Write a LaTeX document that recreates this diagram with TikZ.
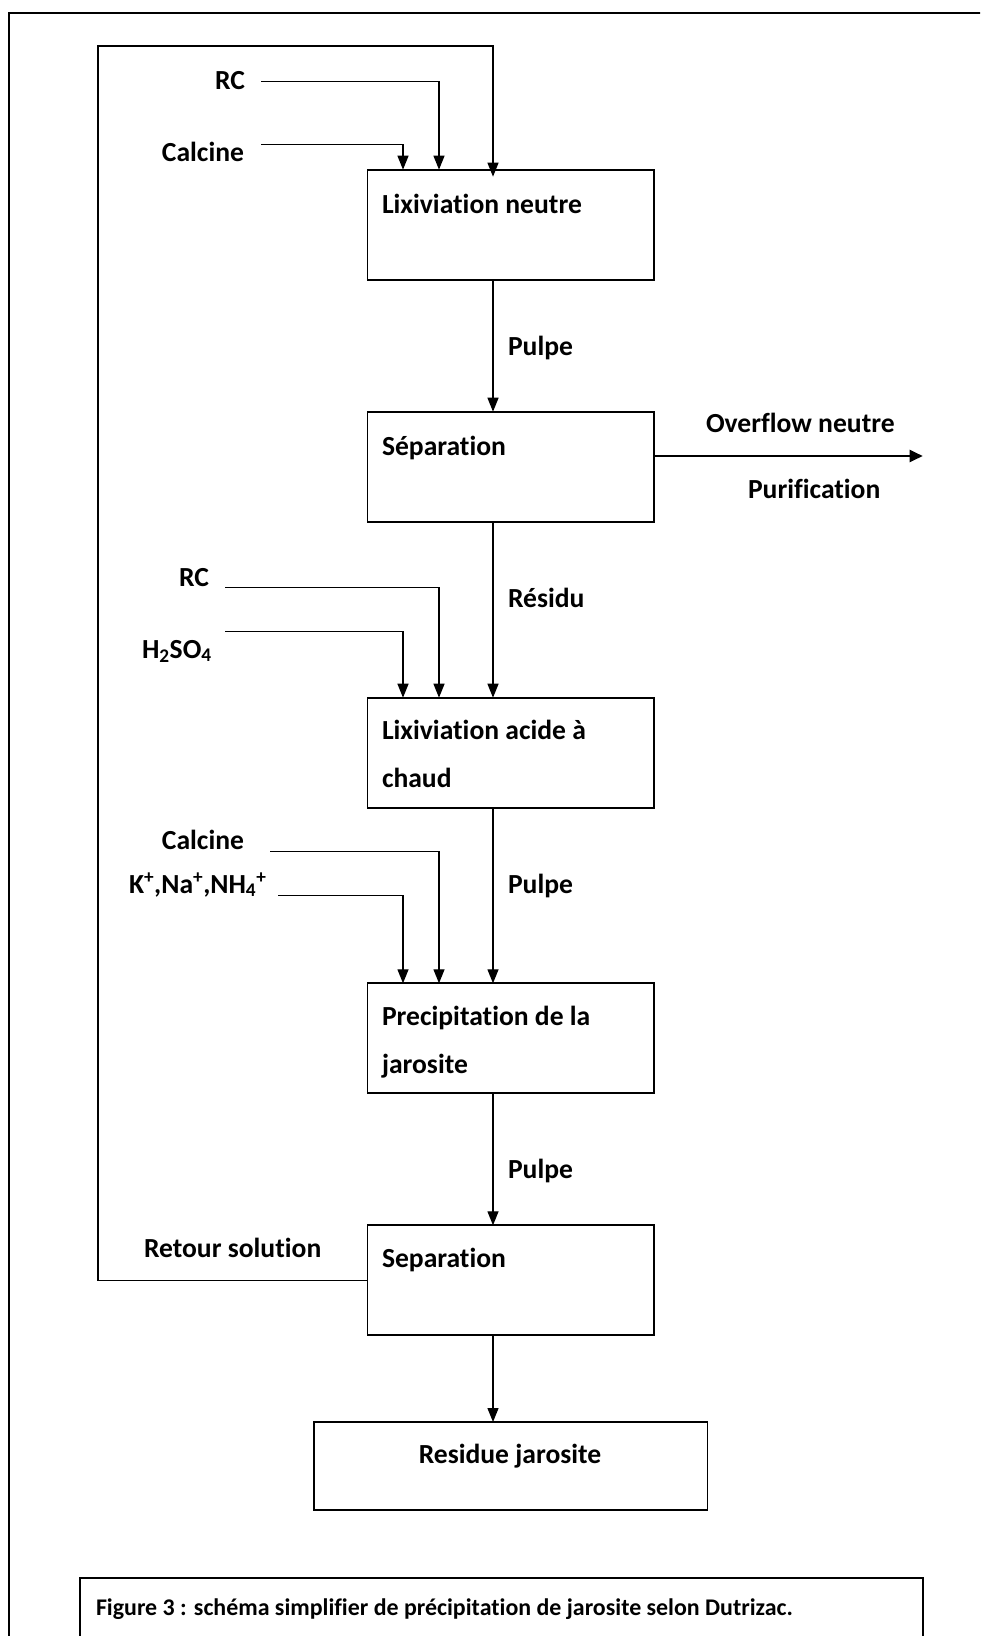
\documentclass[tikz,border=0pt]{standalone}
\usepackage{fontspec}
\setmainfont{Carlito}[Ligatures={NoCommon}]
\usetikzlibrary{arrows.meta}
\begin{document}
\begin{tikzpicture}[x=1pt,y=-1pt,
  every node/.style={inner sep=0pt, outer sep=0pt},
  lbl/.style={font=\fontsize{27.6}{33}\selectfont\bfseries, anchor=base west},
  lblr/.style={lbl, anchor=base east},
  unit/.style={draw, line width=1.8pt, minimum width=286.5pt, minimum height=110pt},
  flow/.style={line width=1.3pt, -{Triangle[length=14pt,width=11pt]}},
  frame/.style={line width=1.8pt}
]
\useasboundingbox (0,0) rectangle (980,1636);
\clip (0,0) rectangle (980,1636);

% page frame, running off the right and bottom edges
\draw[frame] (990,12.7) -- (8.7,12.7) -- (8.7,1650);

% process units
\node[unit] (b1) at (510.75,224.65) {};
\node[unit] (b2) at (510.75,466.7) {};
\node[unit] (b3) at (510.75,752.7) {};
\node[unit] (b4) at (510.75,1038.3) {};
\node[unit] (b5) at (510.75,1280.3) {};
\node[unit, minimum width=393.5pt, minimum height=88pt] (b6) at (510.75,1466) {};

% unit titles
\node[lbl] (t1) at (382,213) {Lixiviation neutre};
\node[lbl] (t2) at (382,455) {Séparation};
\node[lbl] (t3a) at (382,739) {Lixiviation acide à};
\node[lbl] (t3b) at (382,787) {chaud};
\node[lbl] (t4a) at (382,1025) {Precipitation de la};
\node[lbl] (t4b) at (382,1073) {jarosite};
\node[lbl] (t5) at (382,1267) {Separation};
\node[lbl, anchor=base] (t6) at (510,1463) {Residue jarosite};

% x positions of the vertical drops
\coordinate (col) at (493,0);
\coordinate (dA) at (403,0);
\coordinate (dB) at (439,0);

% main stream
\draw[flow] (b1.south -| col) -- (b2.north -| col);
\draw[flow] (b2.south -| col) -- (b3.north -| col);
\draw[flow] (b3.south -| col) -- (b4.north -| col);
\draw[flow] (b4.south -| col) -- (b5.north -| col);
\draw[flow] (b5.south -| col) -- (b6.north -| col);

\node[lbl] (p1) at (508,355) {Pulpe};
\node[lbl] (r1) at (508,607) {Résidu};
\node[lbl] (p2) at (508,893) {Pulpe};
\node[lbl] (p3) at (508,1178) {Pulpe};

% solution return loop
\coordinate (ret) at (98,46);
\draw[flow] (b5.west) -| (ret) -| ([yshift=-7pt]b1.north -| col);
\node[lbl] (rs) at (144,1257) {Retour solution};

% neutral leach feeds
\node[lblr] (rc1) at (245,89) {RC};
\node[lblr] (ca1) at (244,161.7) {Calcine};
\coordinate (s1) at (261,81.3);
\coordinate (s2) at (261,144.3);
\draw[flow] (s1) -| (b1.north -| dB);
\draw[flow] (s2) -| (b1.north -| dA);

% overflow to purification
\coordinate (ov) at (922.7,456);
\draw[line width=2pt, -{Triangle[length=13pt,width=12pt]}] (b2.east |- ov) -- (ov);
\node[lbl] (of) at (706,432) {Overflow neutre};
\node[lbl] (pu) at (748,498) {Purification};

% hot acid leach feeds
\node[lblr] (rc2) at (209,586) {RC};
\node[lbl] (h2) at (142,658) {H\textsubscript{2}SO\textsubscript{4}};
\coordinate (s3) at (225,587.3);
\coordinate (s4) at (225,631.7);
\draw[flow] (s3) -| (b3.north -| dB);
\draw[flow] (s4) -| (b3.north -| dA);

% jarosite precipitation feeds
\node[lblr] (ca2) at (244,849) {Calcine};
\node[lbl] (ion) at (129,893) {K\textsuperscript{+},Na\textsuperscript{+},NH\textsubscript{4}\textsuperscript{+}};
\coordinate (s5) at (270,851.3);
\coordinate (s6) at (278,895.3);
\draw[flow] (s5) -| (b4.north -| dB);
\draw[flow] (s6) -| (b4.north -| dA);

% caption
\draw[frame] (80,1650) -- (80,1578) -- (922.7,1578) -- (922.7,1650);
\node[font=\fontsize{23.9}{28}\selectfont\bfseries, anchor=base west] (cap) at (96,1615)
  {Figure 3 : schéma simplifier de précipitation de jarosite selon Dutrizac.};
\end{tikzpicture}
\end{document}
